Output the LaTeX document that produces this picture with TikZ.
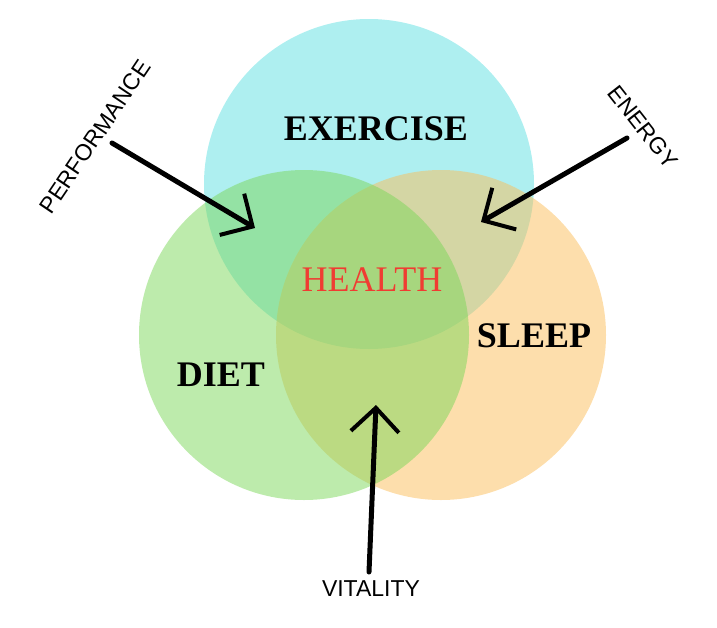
\documentclass[tikz,border=0pt]{standalone}
\usepackage{fontspec}
\setmainfont{Liberation Serif}
\setsansfont{Liberation Sans}
\usetikzlibrary{arrows.meta,positioning}

\definecolor{exercisecol}{HTML}{5DDFE1}
\definecolor{sleepcol}{HTML}{FBBD59}
\definecolor{dietcol}{HTML}{7BD759}
\definecolor{healthred}{HTML}{F03C32}

\begin{document}
\begin{tikzpicture}[x=1pt,y=-1pt,
    ring/.style={circle,minimum size=330pt,inner sep=0pt,fill opacity=0.5},
    title/.style={font=\fontsize{36}{36}\selectfont\bfseries},
    tag/.style={font=\fontsize{23}{23}\selectfont\sffamily,inner sep=1pt},
    brush/.style={line width=5pt,line cap=round,-{Straight Barb[length=24pt,width=48pt,line width=4pt]}}]

                \useasboundingbox (0,0) rectangle (717,627);

                % the three circles
                \node[ring,fill=exercisecol] (exercise) at (369,184) {};

                \node[ring,fill=sleepcol] (sleep) at (441,335) {};

                \node[ring,fill=dietcol] (diet) at (304,335) {};

                

                \node[title] (exercisetxt) at (376,129) {EXERCISE};

                \node[title] (diettxt) at (221,375) {DIET};

                \node[title] (sleeptxt) at (534,336) {SLEEP};

                \node[font=\fontsize{36}{36}\selectfont,text=healthred] (health) at (372,280) {HEALTH};

                

                % labels round the outside
                \node[tag,rotate=56] (performance) at (95,137) {PERFORMANCE};

                \node[tag,rotate=-52] (energy) at (643,127) {ENERGY};

                \node[tag] (vitality) at (371,589) {VITALITY};

                

                \coordinate (perfstart) at (112,143);
                \coordinate (perftip) at (255,228);
                \coordinate (energystart) at (627,138);
                \coordinate (energytip) at (481,222);
                \coordinate (vitalstart) at (369,572);
                \coordinate (vitaltip) at (376,405);

                

                \foreach \from/\to in {perfstart/perftip, energystart/energytip, vitalstart/vitaltip}
                    {
                    \draw[brush] (\from) -- (\to);
                    }

            \end{tikzpicture}
\end{document}
